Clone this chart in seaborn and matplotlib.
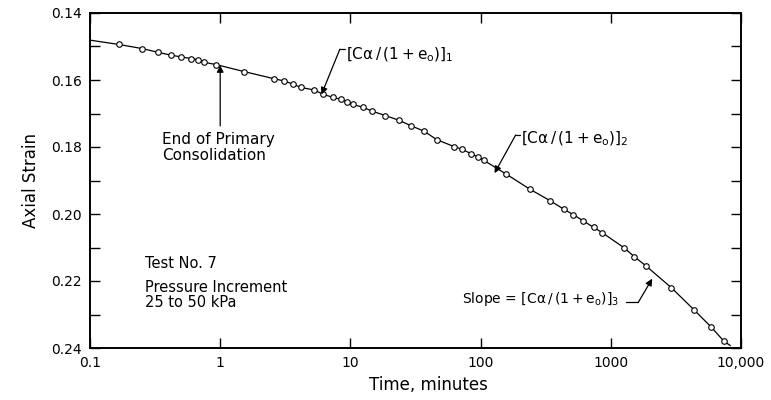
import numpy as np
import pandas as pd
import matplotlib
matplotlib.use("Agg")
import matplotlib.pyplot as plt
import seaborn as sns

# Data
time_min = [0.167, 0.25, 0.33, 0.42, 0.5, 0.6, 0.67, 0.75, 0.93, 1.53,
            2.58, 3.11, 3.6, 4.15, 5.28, 6.19, 7.39, 8.47, 9.42, 10.5,
            12.6, 14.7, 18.5, 23.5, 29.4, 36.9, 46, 62.8, 72.3, 84.4,
            96, 106, 156, 239, 341, 437, 515, 611, 739, 861,
            1256, 1513, 1863, 2919, 4355, 5888, 7400]
axial_strain = [0.1494, 0.1506, 0.1517, 0.1526, 0.1531, 0.1536, 0.1539, 0.1547, 0.1554, 0.1575,
                0.1596, 0.1603, 0.1612, 0.1622, 0.1630, 0.1643, 0.1652, 0.1658, 0.1666, 0.1673,
                0.1682, 0.1693, 0.1706, 0.1720, 0.1737, 0.1753, 0.1778, 0.1799, 0.1807, 0.1820,
                0.1830, 0.1840, 0.1880, 0.1926, 0.1960, 0.1986, 0.2002, 0.2020, 0.2040, 0.2056,
                0.2100, 0.2127, 0.2155, 0.2220, 0.2286, 0.2337, 0.2380]
# Curve end points (the drawn line extends beyond the first/last points)
curve_start = (0.1, 0.1481)
curve_end = (8300, 0.2393)

x_ticks = [0.1, 1, 10, 100, 1000, 10000]
x_tick_labels = ["0.1", "1", "10", "100", "1000", "10,000"]
y_ticks = [0.14, 0.16, 0.18, 0.20, 0.22, 0.24]
y_tick_labels = ["0.14", "0.16", "0.18", "0.20", "0.22", "0.24"]
y_minor = [0.15, 0.17, 0.19, 0.21, 0.23]

sns.set_style("ticks")
plt.rcParams['font.family'] = ['DejaVu Sans']
plt.rcParams['mathtext.default'] = 'regular'
plt.rcParams['mathtext.fontset'] = 'dejavusans'
plt.rcParams['text.color'] = 'black'
plt.rcParams['axes.labelcolor'] = 'black'
plt.rcParams['xtick.color'] = 'black'
plt.rcParams['ytick.color'] = 'black'

df = pd.DataFrame({"t": time_min, "s": axial_strain})
curve = pd.DataFrame({"t": [curve_start[0]] + time_min + [curve_end[0]],
                      "s": [curve_start[1]] + axial_strain + [curve_end[1]]})

fig = plt.figure(figsize=(7.71, 4.0), dpi=100)
ax = fig.add_axes([90/771, 1-348/400, (741-90)/771, (348-13)/400])

sns.lineplot(data=curve, x="t", y="s", ax=ax, color="black", linewidth=0.9,
             sort=False, estimator=None)
sns.scatterplot(data=df, x="t", y="s", ax=ax, marker="o", s=16,
                facecolor="white", edgecolor="black", linewidth=0.8, zorder=3)

ax.set_xscale("log")
ax.set_xlim(0.1, 10000)
ax.set_ylim(0.24, 0.14)
ax.set_xticks(x_ticks)
ax.set_xticklabels(x_tick_labels, fontsize=10)
ax.xaxis.set_minor_locator(matplotlib.ticker.NullLocator())
ax.set_yticks(y_ticks)
ax.set_yticklabels(y_tick_labels, fontsize=10)
ax.set_yticks(y_minor, minor=True)

ax.tick_params(axis="both", which="both", direction="in", top=True, right=True,
               width=1.0, color="black", labelcolor="black")
ax.tick_params(axis="both", which="major", length=7, pad=6)
ax.tick_params(axis="y", which="minor", length=7)

for sp in ax.spines.values():
    sp.set_linewidth(1.4)
    sp.set_color("black")

ax.set_xlabel("Time, minutes", fontsize=12, labelpad=3, color="black")
ax.xaxis.set_label_coords(0.52, -0.085)
ax.set_ylabel("Axial Strain", fontsize=12, labelpad=8, color="black")

# Annotations
arrowprops = dict(arrowstyle="-|>", color="black", lw=0.9, mutation_scale=10,
                  shrinkA=0, shrinkB=0)

ax.annotate("", xy=(1.0, 0.1556), xytext=(1.0, 0.1737),
            arrowprops=arrowprops)
ax.text(0.36, 0.1801, "End of Primary\nConsolidation", fontsize=11,
        ha="left", va="center", linespacing=1.05)

ax.annotate("", xy=(6.0, 0.1643), xytext=(8.3, 0.1508),
            arrowprops=arrowprops)
ax.plot([8.3, 9.1], [0.1508, 0.1508], color="black", lw=0.9)
ax.text(9.3, 0.1525, r"$\left[C\alpha\,/\,(1+e_o)\right]_1$", fontsize=11,
        ha="left", va="center")

ax.annotate("", xy=(128, 0.1878), xytext=(186, 0.1764),
            arrowprops=arrowprops)
ax.plot([186, 200], [0.1764, 0.1764], color="black", lw=0.9)
ax.text(205, 0.1775, r"$\left[C\alpha\,/\,(1+e_o)\right]_2$", fontsize=11,
        ha="left", va="center")

ax.annotate("", xy=(2080, 0.2193), xytext=(1630, 0.2263),
            arrowprops=arrowprops)
ax.plot([1300, 1630], [0.2263, 0.2263], color="black", lw=0.9)
ax.text(1150, 0.2255, r"Slope = $\left[C\alpha\,/\,(1+e_o)\right]_3$", fontsize=10,
        ha="right", va="center")

ax.text(0.265, 0.2147, "Test No. 7", fontsize=10.5, ha="left", va="center")
ax.text(0.265, 0.2242, "Pressure Increment\n25 to 50 kPa", fontsize=10.5,
        ha="left", va="center", linespacing=1.0)

fig.savefig("out.png", dpi=100)
